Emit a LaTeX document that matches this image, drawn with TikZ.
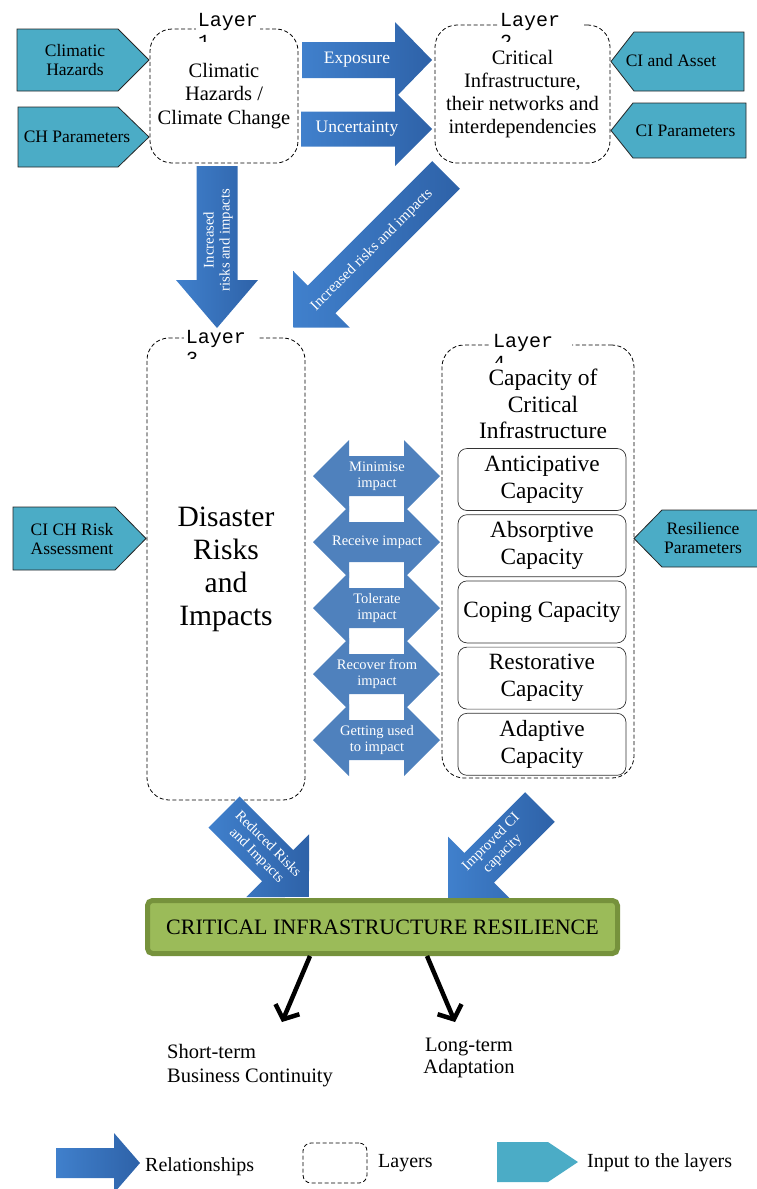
\documentclass[tikz,border=0pt]{standalone}
\usepackage{fontspec}
\setmainfont{Liberation Serif}
\setmonofont{Liberation Mono}
\usetikzlibrary{arrows.meta,shadows,positioning}

\definecolor{relL}{RGB}{64,128,204}
\definecolor{relD}{RGB}{46,98,168}
\definecolor{midblue}{RGB}{79,129,189}
\definecolor{inputfill}{RGB}{75,172,198}
\definecolor{cirfill}{RGB}{155,187,89}
\definecolor{cirline}{RGB}{118,146,60}

\newcommand{\fsz}[2]{\fontsize{#1}{#2}\selectfont}

\tikzset{
  % block arrow: length, shaft, head width, head length
  pics/relarrow/.style n args={4}{code={%
    \path[pic actions] (0,-#2/2) -- (#1-#4,-#2/2) -- (#1-#4,-#3/2) -- (#1,0)
      -- (#1-#4,#3/2) -- (#1-#4,#2/2) -- (0,#2/2) -- cycle;}},
  % double block arrow, centred
  pics/dblarrow/.style n args={4}{code={%
    \path[pic actions] (-#1/2,0) -- (-#1/2+#4,-#3/2) -- (-#1/2+#4,-#2/2)
      -- (#1/2-#4,-#2/2) -- (#1/2-#4,-#3/2) -- (#1/2,0) -- (#1/2-#4,#3/2)
      -- (#1/2-#4,#2/2) -- (-#1/2+#4,#2/2) -- (-#1/2+#4,#3/2) -- cycle;}},
  % input pentagon: body width, height, pointer
  pics/inputshape/.style n args={3}{code={%
    \path[pic actions] (0,-#2/2) -- (#1,-#2/2) -- (#1+#3,0) -- (#1,#2/2)
      -- (0,#2/2) -- cycle;}}
}

\begin{document}
\begin{tikzpicture}[x=1pt,y=-1pt,
  layerbox/.style={draw=black, line width=.8pt, dash pattern=on 4pt off 2.5pt,
    rounded corners=22pt, align=center},
  layerlbl/.style={font=\ttfamily\fsz{20}{22}, inner sep=0pt},
  capbox/.style={draw=black!80, line width=.7pt, rounded corners=9pt,
    minimum width=168pt, minimum height=62pt, align=center, font=\fsz{23.3}{27}},
  rel/.style={left color=relL, right color=relD,
    drop shadow={opacity=.3, shadow xshift=2.5pt, shadow yshift=-2.5pt}},
  flat/.style={fill=midblue},
  inp/.style={fill=inputfill, draw=black!85, line width=.8pt},
  inputtxt/.style={align=center, font=\fsz{17.5}{19.5}},
  reltxt/.style={text=white, align=center, inner sep=0pt},
  cirbox/.style={fill=cirfill, draw=cirline, line width=5pt, rounded corners=5pt,
    font=\fsz{22}{24}},
  outarrow/.style={line width=4.5pt, -{Straight Barb[length=11pt,width=26pt]}},
  plain/.style={align=center, inner sep=0pt, font=\fsz{20}{23}}]

\useasboundingbox (0,0) rectangle (756,1189);

% layers
\node[layerbox, minimum width=148pt, minimum height=134pt, font=\fsz{20.5}{23.5}]
  (lay1) at (224,96) {Climatic\\Hazards /\\Climate Change};
\node[layerbox, minimum width=175pt, minimum height=138pt, font=\fsz{20.5}{23}]
  (lay2) at (522.5,94) {Critical\\Infrastructure,\\their networks and\\interdependencies};
\node[layerbox, minimum width=158pt, minimum height=462pt, font=\fsz{29.5}{33}]
  (lay3) at (226,569) {Disaster\\Risks\\and\\Impacts};
\node[layerbox, minimum width=192pt, minimum height=433pt] (lay4) at (538,561.5) {};

\foreach \n/\x/\y/\r in {1/228/26/32, 2/530/26/53, 3/216/343/42, 4/523/347/49} {
  \begin{scope}
    \clip (\x-32,\y-14) rectangle (\x+\r,\y+15);
    \fill[white] (\x-32,\y-14) rectangle (\x+\r,\y+15);
    \node[layerlbl, anchor=base] (lbl\n) at (\x,\y) {Layer};
    \node[layerlbl, anchor=base west] at (\x-30,\y+22) {\n};
  \end{scope}
}

\node[align=center, font=\fsz{23.5}{26.5}] (capttl) at (543,404)
  {Capacity of\\Critical\\Infrastructure};
\foreach \t [count=\i] in {{Anticipative\\Capacity}, {Absorptive\\Capacity},
    Coping Capacity, {Restorative\\Capacity}, {Adaptive\\Capacity}}
  \node[capbox] (cap\i) at (542,{479.5+66.2*(\i-1)}) {\t};

% inputs
\pic[inp] at (17,60) {inputshape={101}{62}{31}};
\node[inputtxt] (chaz) at (75,60) {Climatic\\Hazards};
\pic[inp] at (18,137) {inputshape={100}{60}{31}};
\node[inputtxt] (chpar) at (77,137) {CH Parameters};
\pic[inp, xscale=-1] at (744,61.5) {inputshape={110}{59}{23}};
\node[inputtxt] (ciasset) at (671,61) {CI and Asset};
\pic[inp, xscale=-1] at (746,130.5) {inputshape={113}{55}{22}};
\node[inputtxt] (cipar) at (685.5,130.5) {CI Parameters};
\pic[inp] at (13,538.5) {inputshape={102}{63}{31}};
\node[inputtxt] (riskass) at (72,539) {CI CH Risk\\Assessment};
\pic[inp, xscale=-1] at (770,538.5) {inputshape={108}{57}{28}};
\node[inputtxt] (respar) at (703,538) {Resilience\\Parameters};

% relationships
\pic[rel] at (302,60) {relarrow={130}{36}{76}{37}};
\node[reltxt, font=\fsz{17.5}{19}] (expo) at (357,60) {Exposure};
\pic[rel] at (301,129) {relarrow={131}{35}{74}{37}};
\node[reltxt, font=\fsz{17.5}{19}] (uncert) at (357,129) {Uncertainty};
\pic[rel, rotate=-90] at (217,166) {relarrow={162}{41}{82}{48}};
\node[reltxt, rotate=90, font=\fsz{14.7}{16}] (incdown) at (218,240)
  {Increased\\risks and impacts};
\pic[rel, rotate=-135] at (446,175) {relarrow={216}{39}{80}{40}};
\node[reltxt, rotate=45, font=\fsz{15}{16}] (incdiag) at (372,250)
  {Increased risks and impacts};

\foreach \t [count=\i] in {{Minimise\\impact}, Receive impact, {Tolerate\\impact},
    {Recover from\\impact}, {Getting used\\to impact}} {
  \pic[flat] at (376.5,{476+66*(\i-1)}) {dblarrow={127}{40}{72}{36}};
  \node[reltxt, font=\fsz{14.5}{15.5}] (mid\i) at (377,{476+66*(\i-1)}) {\t};
}

\pic[rel, rotate=-45] at (224,812) {relarrow={120}{44}{89}{44}};
\node[reltxt, rotate=-45, font=\fsz{14.5}{16}] (reduced) at (262,850)
  {Reduced Risks\\and Impacts};
\pic[rel, rotate=-135] at (540,807) {relarrow={130}{42}{88}{44}};
\node[reltxt, rotate=45, font=\fsz{14.5}{16}] (improved) at (497,848)
  {Improved CI\\capacity};

% resilience
\node[cirbox, minimum width=470pt, minimum height=53pt] (cir) at (382.5,927)
  {CRITICAL INFRASTRUCTURE RESILIENCE};
\coordinate (stend) at (282,1022);
\coordinate (ltend) at (455,1022);
\draw[outarrow] ([xshift=-72.5pt]cir.south) -- (stend);
\draw[outarrow] ([xshift=44.5pt]cir.south) -- (ltend);
\node[plain, align=left, anchor=north west, font=\fsz{20.5}{24}] (short) at (167,1044)
  {Short-term\\Business Continuity};
\node[plain, font=\fsz{20.5}{22}] (long) at (469,1058) {Long-term\\Adaptation};

% legend
\pic[rel] at (56,1163) {relarrow={84}{30}{60}{26}};
\node[plain, anchor=west] (legrel) at (145,1167) {Relationships};
\node[layerbox, rounded corners=8pt, minimum width=64pt, minimum height=40pt]
  (leglay) at (335,1163) {};
\node[plain, anchor=west] (leglaytxt) at (378,1163) {Layers};
\pic[fill=inputfill] at (497,1162) {inputshape={51}{40}{30}};
\node[plain, anchor=west] (leginp) at (587,1163) {Input to the layers};
\end{tikzpicture}
\end{document}
